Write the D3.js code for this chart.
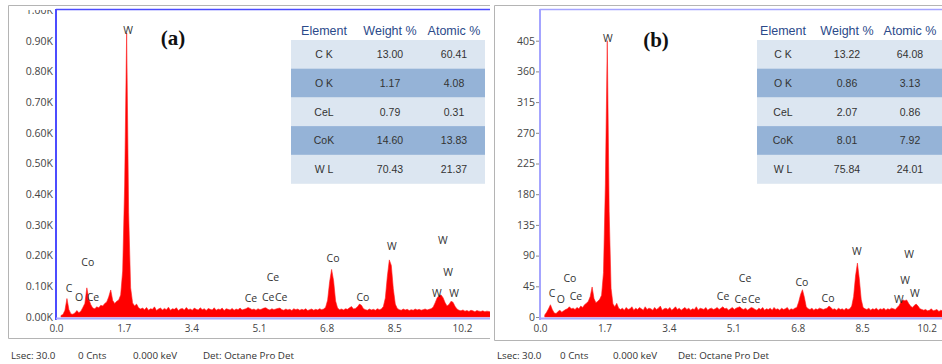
<!DOCTYPE html>
<html>
<head>
<meta charset="utf-8">
<script src="https://cdn.jsdelivr.net/npm/d3@7"></script>
<style>
  html, body { margin: 0; padding: 0; background: #fff; }
  svg { display: block; }
</style>
</head>
<body>
<svg id="chart" width="942" height="364"></svg>
<script>
// ---- EDS spectra: counts per channel, first channel energy + channel width in keV ----
const channelStart = 0.125;
const channelStep = 0.05;

// Sample (a): counts, ten channels per line (0.5 keV per line)
const countsA = [
  5, 8, 22, 60, 24, 10, 9, 13, 21, 14,
  19, 31, 44, 95, 58, 40, 29, 27, 33, 30,
  38, 36, 44, 49, 66, 88, 54, 44, 51, 55,
  72, 150, 430, 925, 340, 95, 46, 36, 42, 30,
  26, 29, 24, 31, 22, 27, 25, 33, 21, 26,
  29, 23, 28, 24, 32, 22, 27, 25, 30, 21,
  26, 28, 23, 31, 24, 26, 22, 29, 25, 23,
  30, 24, 27, 21, 28, 25, 23, 30, 22, 26,
  24, 29, 21, 27, 25, 23, 28, 22, 26, 24,
  29, 23, 25, 27, 31, 28, 24, 26, 22, 27,
  24, 26, 29, 30, 25, 23, 27, 24, 26, 28,
  29, 24, 22, 26, 23, 25, 21, 27, 24, 26,
  22, 25, 23, 27, 21, 24, 26, 22, 25, 23,
  27, 24, 26, 32, 55, 115, 155, 118, 52, 29,
  24, 26, 23, 27, 25, 30, 34, 26, 28, 33,
  42, 38, 27, 24, 22, 26, 23, 25, 22, 27,
  24, 26, 34, 62, 132, 186, 168, 92, 42, 28,
  24, 22, 26, 23, 25, 21, 24, 22, 26, 23,
  25, 22, 24, 26, 23, 25, 27, 32, 46, 62,
  70, 72, 63, 47, 36, 41, 51, 48, 35, 26,
  22, 20, 23, 19, 21, 18, 22, 20, 17, 21,
  19, 18, 20, 17, 19, 18, 16, 18
];

// Sample (b): counts, ten channels per line
const countsB = [
  3, 7, 12, 18, 11, 6, 5, 8, 10, 7,
  9, 11, 12, 15, 12, 13, 11, 14, 12, 16,
  14, 18, 20, 23, 30, 44, 27, 21, 23, 26,
  32, 65, 195, 405, 155, 42, 19, 15, 20, 13,
  11, 13, 10, 14, 11, 12, 15, 10, 13, 11,
  14, 12, 10, 15, 11, 13, 12, 10, 14, 11,
  13, 16, 10, 12, 13, 11, 14, 10, 12, 15,
  11, 13, 10, 12, 14, 11, 13, 10, 12, 11,
  15, 10, 13, 12, 11, 14, 10, 12, 13, 11,
  12, 14, 11, 13, 15, 12, 13, 10, 12, 14,
  11, 13, 14, 15, 12, 11, 13, 10, 12, 14,
  13, 11, 10, 13, 11, 14, 10, 12, 11, 13,
  10, 14, 11, 12, 10, 13, 11, 12, 14, 10,
  12, 11, 13, 14, 22, 33, 40, 29, 15, 12,
  11, 13, 10, 12, 11, 13, 12, 11, 12, 13,
  16, 14, 11, 12, 10, 13, 11, 12, 10, 13,
  11, 12, 16, 30, 60, 79, 56, 26, 14, 12,
  11, 13, 10, 12, 11, 13, 10, 12, 11, 13,
  10, 12, 11, 13, 12, 11, 14, 17, 22, 25,
  24, 25, 20, 16, 14, 17, 19, 16, 12, 11,
  10, 11, 9, 10, 12, 9, 10, 11, 8, 10,
  9, 10, 8, 9, 10, 8, 9, 8
];

// Axis ticks
const xTicks = [0, 1.7, 3.4, 5.1, 6.8, 8.5, 10.2];
const yTicksA = [0, 100, 200, 300, 400, 500, 600, 700, 800, 900, 1000];
const yTicksB = [0, 45, 90, 135, 180, 225, 270, 315, 360, 405];
const yMaxA = 1000;
const yMaxB = 450;
const energyMax = 10.9;

// Line identification markers: element, energy (keV), height (counts)
const markTextA  = ["W", "Co", "C", "O", "Ce", "Ce", "Ce", "Ce", "Ce", "Co", "Co", "W", "W", "W", "W", "W"];
const markKeVA   = [1.81, 0.80, 0.33, 0.58, 0.93, 4.90, 5.45, 5.33, 5.66, 6.96, 7.71, 8.44, 9.72, 9.85, 9.57, 10.0];
const markLevelA = [935, 179, 94, 65, 65, 62, 130, 65, 65, 192, 65, 231, 251, 147, 78, 78];

const markTextB  = ["W", "Co", "C", "O", "Ce", "Ce", "Ce", "Ce", "Ce", "Co", "Co", "W", "W", "W", "W", "W"];
const markKeVB   = [1.79, 0.79, 0.32, 0.55, 0.95, 4.83, 5.41, 5.30, 5.65, 6.91, 7.60, 8.36, 9.74, 9.63, 9.47, 9.89];
const markLevelB = [409, 57, 35, 26, 31, 31, 57, 26, 26, 51, 28, 97, 92, 54, 26, 35];

// Quantification tables
const tableHeader = ["Element", "Weight %", "Atomic %"];
const elements = ["C K", "O K", "CeL", "CoK", "W L"];
const weightA = [13.00, 1.17, 0.79, 14.60, 70.43];
const atomicA = [60.41, 4.08, 0.31, 13.83, 21.37];
const weightB = [13.22, 0.86, 2.07, 8.01, 75.84];
const atomicB = [64.08, 3.13, 0.86, 7.92, 24.01];

// Status line under each spectrum
const footerText = ["Lsec: 30.0", "0 Cnts", "0.000 keV", "Det: Octane Pro Det"];

// ---- layout of the two panels ----
const panels = [
  {
    key: "a", counts: countsA, yMax: yMaxA, yTicks: yTicksA,
    yFormat: v => d3.format(".2f")(v / 1000) + "K",
    marks: markTextA.map((t, i) => ({ t, e: markKeVA[i], v: markLevelA[i] })),
    weight: weightA, atomic: atomicA,
    frame: { left: 8.5, top: 5.5, bottom: 338.5, right: 490 },
    plot: { left: 56, right: 490, top: 10, bottom: 317 },
    xRangeEnd: 56 + 39.8 * energyMax,
    axisColor: "#4c4cff", tickSize: 0, tickPad: 2,
    title: "(a)", titlePos: [173, 45],
    table: { x: 291, w: 194, cols: [324, 390, 454] },
    footerX: [11, 78, 133, 203]
  },
  {
    key: "b", counts: countsB, yMax: yMaxB, yTicks: yTicksB,
    yFormat: d3.format("d"),
    marks: markTextB.map((t, i) => ({ t, e: markKeVB[i], v: markLevelB[i] })),
    weight: weightB, atomic: atomicB,
    frame: { left: 494.5, top: 5.5, bottom: 340.5, right: 942 },
    plot: { left: 540, right: 942, top: 10, bottom: 317 },
    xRangeEnd: 540 + 37.9 * energyMax,
    axisColor: "#a4a4ff", tickSize: 3, tickPad: 1,
    title: "(b)", titlePos: [656, 47],
    table: { x: 757, w: 187, cols: [783, 847, 910] },
    footerX: [497, 560, 613, 678]
  }
];

const svg = d3.select("#chart");
const defs = svg.append("defs");
const uiFont = "'Open Sans', 'Noto Sans', sans-serif";
const tableFont = "'Liberation Sans', Arial, sans-serif";

panels.forEach(p => {
  const g = svg.append("g").attr("class", "panel-" + p.key);
  const x = d3.scaleLinear().domain([0, energyMax]).range([p.plot.left, p.xRangeEnd]);
  const y = d3.scaleLinear().domain([0, p.yMax]).range([p.plot.bottom, p.plot.top]);

  // outer window frame
  g.append("path")
    .attr("d", `M${p.frame.right},${p.frame.top}H${p.frame.left}V${p.frame.bottom}H${p.frame.right}`)
    .attr("fill", "none").attr("stroke", "#b4b4b4").attr("stroke-width", 1);

  // spectrum fill, clipped to the plotting area
  const clipId = "clip-" + p.key;
  defs.append("clipPath").attr("id", clipId)
    .append("rect")
    .attr("x", p.plot.left).attr("y", p.plot.top)
    .attr("width", p.plot.right - p.plot.left)
    .attr("height", p.plot.bottom - p.plot.top + 1);

  // tick labels are cut off at the top edge of the plot
  const axisClipId = "axis-clip-" + p.key;
  defs.append("clipPath").attr("id", axisClipId)
    .append("rect")
    .attr("x", p.frame.left).attr("y", p.plot.top)
    .attr("width", p.plot.left - p.frame.left)
    .attr("height", p.plot.bottom - p.plot.top + 12);

  const area = d3.area()
    .x((d, i) => x(channelStart + i * channelStep))
    .y0(y(0))
    .y1(d => y(d));

  g.append("path")
    .datum(p.counts)
    .attr("clip-path", `url(#${clipId})`)
    .attr("d", area)
    .attr("fill", "#ff0000")
    .attr("stroke", "#ff2020")
    .attr("stroke-width", 0.6);

  // plot border lines (top, left, bottom)
  g.append("line")
    .attr("x1", p.plot.left).attr("x2", p.plot.right)
    .attr("y1", p.plot.top - 0.5).attr("y2", p.plot.top - 0.5)
    .attr("stroke", p.axisColor).attr("stroke-width", 1.5);
  g.append("line")
    .attr("x1", p.plot.left).attr("x2", p.plot.left)
    .attr("y1", p.plot.top - 1).attr("y2", p.plot.bottom + 3)
    .attr("stroke", p.axisColor).attr("stroke-width", 2);
  g.append("line")
    .attr("x1", p.plot.left).attr("x2", p.plot.right)
    .attr("y1", p.plot.bottom + 1.5).attr("y2", p.plot.bottom + 1.5)
    .attr("stroke", "#a8a8ff").attr("stroke-width", 2);

  // y axis
  const yAxis = d3.axisLeft(y).tickValues(p.yTicks).tickFormat(p.yFormat)
    .tickSize(p.tickSize).tickPadding(p.tickPad);
  const ya = g.append("g").attr("clip-path", `url(#${axisClipId})`)
    .append("g").attr("transform", `translate(${p.plot.left - 1},0)`).call(yAxis);
  ya.select(".domain").remove();
  ya.selectAll("line").attr("stroke", "#888");
  ya.selectAll("text").attr("font-family", uiFont).attr("font-size", 10.5).attr("fill", "#444");

  // x axis
  const xAxis = d3.axisBottom(x).tickValues(xTicks).tickFormat(d3.format(".1f"))
    .tickSize(0).tickPadding(6);
  const xa = g.append("g").attr("transform", `translate(0,${p.plot.bottom + 2})`).call(xAxis);
  xa.select(".domain").remove();
  xa.selectAll("text").attr("font-family", uiFont).attr("font-size", 10).attr("fill", "#444");

  // element markers
  g.append("g").selectAll("text")
    .data(p.marks).join("text")
    .attr("x", d => x(d.e))
    .attr("y", d => y(d.v))
    .attr("dy", "0.36em")
    .attr("text-anchor", "middle")
    .attr("font-family", uiFont).attr("font-size", 10.5).attr("fill", "#333")
    .text(d => d.t);

  // panel title
  g.append("text")
    .attr("x", p.titlePos[0]).attr("y", p.titlePos[1])
    .attr("text-anchor", "middle")
    .attr("font-family", "'Liberation Serif', 'Times New Roman', serif")
    .attr("font-weight", "bold").attr("font-size", 21).attr("fill", "#111")
    .text(p.title);

  // quantification table
  const rowTop = 40, rowH = 28.7;
  const t = g.append("g");
  t.selectAll("text.hdr").data(tableHeader).join("text")
    .attr("class", "hdr")
    .attr("x", (d, i) => p.table.cols[i]).attr("y", 35)
    .attr("text-anchor", "middle")
    .attr("font-family", tableFont).attr("font-size", 12.5).attr("fill", "#2b4a8a")
    .text(d => d);
  const rows = elements.map((el, i) => [el, p.weight[i].toFixed(2), p.atomic[i].toFixed(2)]);
  rows.forEach((r, i) => {
    t.append("rect")
      .attr("x", p.table.x).attr("y", rowTop + i * rowH)
      .attr("width", p.table.w).attr("height", rowH + 0.3)
      .attr("fill", i % 2 === 0 ? "#dce6f1" : "#95b3d7");
    r.forEach((c, j) => {
      t.append("text")
        .attr("x", p.table.cols[j]).attr("y", rowTop + i * rowH + rowH / 2)
        .attr("dy", "0.36em")
        .attr("text-anchor", "middle")
        .attr("font-family", tableFont).attr("font-size", 10.5).attr("fill", "#333")
        .text(c);
    });
  });

  // status line
  g.append("g").selectAll("text").data(footerText).join("text")
    .attr("x", (d, i) => p.footerX[i]).attr("y", 358.5)
    .attr("font-family", uiFont).attr("font-size", 9.8).attr("fill", "#333")
    .text(d => d);
});
</script>
</body>
</html>
